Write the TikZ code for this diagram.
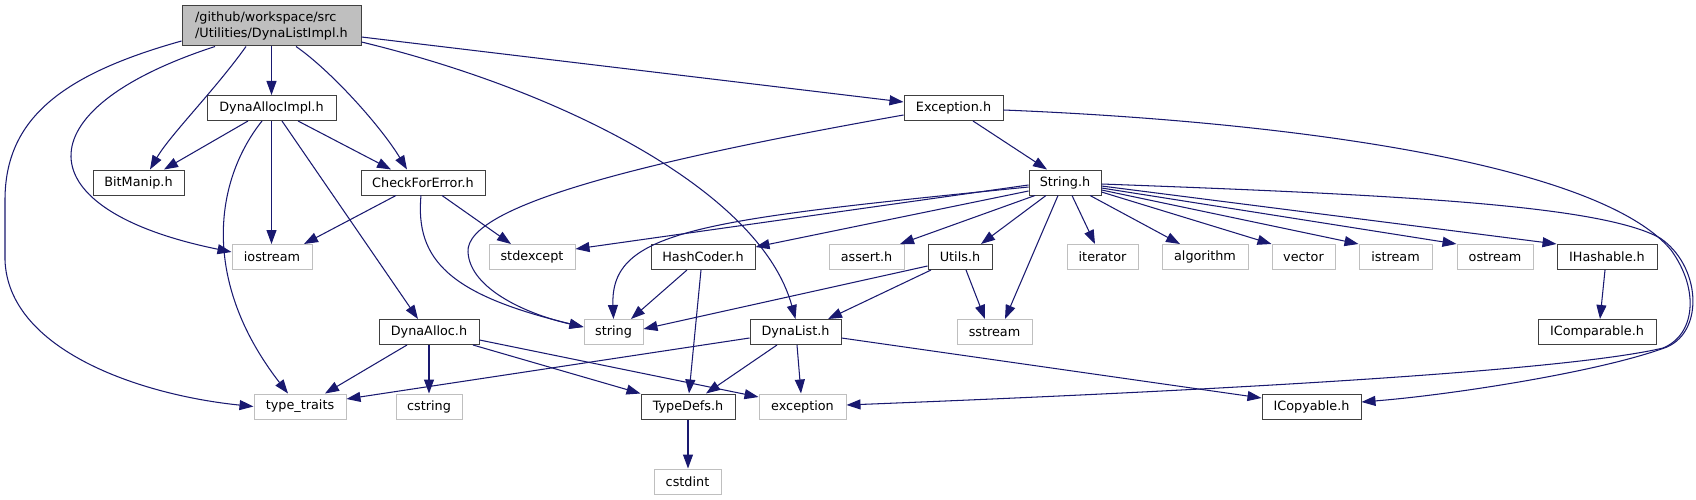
\documentclass[tikz,border=0pt]{standalone}
\usepackage{fontspec}
\newfontfamily\dv{DejaVu Sans}
\usetikzlibrary{arrows.meta}
\definecolor{edgecol}{HTML}{191970}
\definecolor{syscol}{HTML}{BFBFBF}
\definecolor{boxcol}{HTML}{404040}
\definecolor{rootfill}{HTML}{BFBFBF}
\tikzset{
  box/.style={draw=boxcol, line width=1pt, fill=white, inner sep=0pt, minimum height=25pt, text=black, font=\dv\fontsize{12.8}{16}\selectfont},
  sysbox/.style={box, draw=syscol},
  rootbox/.style={box, fill=rootfill, minimum height=40pt, align=left},
  edge/.style={draw=edgecol, line width=1.05pt, -{Triangle[length=14pt,width=10pt]}}
}
\begin{document}
\begin{tikzpicture}[x=1pt,y=-1pt]
\useasboundingbox[fill=white] (0,0) rectangle (1696,500);
% nodes
\node[rootbox, minimum width=179pt] (root) at (271.5,26) {/github/workspace/src\\/Utilities/DynaListImpl.h};
\node[box, minimum width=129pt] (dai) at (271.5,108) {DynaAllocImpl.h};
\node[box, minimum width=99pt] (exc) at (953.5,108) {Exception.h};
\node[box, minimum width=91pt] (bit) at (138.5,182.5) {BitManip.h};
\node[box, minimum width=124pt] (cfe) at (423,182.5) {CheckForError.h};
\node[box, minimum width=72pt] (str) at (1065,182.5) {String.h};
\node[sysbox, minimum width=80pt] (ios) at (272,257) {iostream};
\node[sysbox, minimum width=86pt] (stdex) at (532,257) {stdexcept};
\node[box, minimum width=104pt] (hash) at (703,257) {HashCoder.h};
\node[sysbox, minimum width=75pt] (assert) at (866.5,257) {assert.h};
\node[box, minimum width=64pt] (utils) at (960,257) {Utils.h};
\node[sysbox, minimum width=71pt] (iter) at (1102.5,257) {iterator};
\node[sysbox, minimum width=86pt] (algo) at (1205,257) {algorithm};
\node[sysbox, minimum width=63pt] (vec) at (1303.5,257) {vector};
\node[sysbox, minimum width=73pt] (istr) at (1395.5,257) {istream};
\node[sysbox, minimum width=76pt] (ostr) at (1495,257) {ostream};
\node[box, minimum width=100pt] (ihash) at (1607,257) {IHashable.h};
\node[box, minimum width=100pt] (da) at (429,332) {DynaAlloc.h};
\node[sysbox, minimum width=59pt] (string) at (613.5,332) {string};
\node[box, minimum width=91pt] (dl) at (795.5,332) {DynaList.h};
\node[sysbox, minimum width=75pt] (sstr) at (994.5,332) {sstream};
\node[box, minimum width=118pt] (icmp) at (1597,332) {IComparable.h};
\node[sysbox, minimum width=92pt] (tt) at (300,406.5) {type\_traits};
\node[sysbox, minimum width=66pt] (cstr) at (429,406.5) {cstring};
\node[box, minimum width=94pt] (td) at (688,406.5) {TypeDefs.h};
\node[sysbox, minimum width=87pt] (excp) at (802.5,406.5) {exception};
\node[box, minimum width=99pt] (icpy) at (1311.5,406.5) {ICopyable.h};
\node[sysbox, minimum width=67pt] (cstdint) at (687.5,481.5) {cstdint};
% edges from root
\draw[edge] ([yshift=-15pt]root.west) .. controls (60,75) and (5,120) .. (5,200) -- (5,260) .. controls (8,350) and (140,395) .. (tt.west);
\draw[edge] ([xshift=-56.5pt]root.south) .. controls (20,110) and (25,210) .. ([yshift=5pt]ios.west);
\draw[edge] ([xshift=-25.5pt]root.south) .. controls (215,90) and (170,135) .. ([xshift=11.5pt]bit.north);
\draw[edge] (root.south) -- (dai.north);
\draw[edge] ([xshift=24.5pt]root.south) .. controls (330,70) and (380,125) .. ([xshift=-16pt]cfe.north);
\draw[edge] ([yshift=-16pt]root.east) .. controls (560,90) and (760,190) .. (dl.north);
\draw[edge] ([yshift=-11pt]root.east) -- ([yshift=6pt]exc.west);
% DynaAllocImpl
\draw[edge] ([xshift=-23.5pt]dai.south) -- ([xshift=25.5pt]bit.north);
\draw[edge] (dai.south) -- (dai.south |- ios.north);
\draw[edge] ([xshift=-9.5pt]dai.south) .. controls (215,180) and (200,280) .. ([xshift=-12pt]tt.north);
\draw[edge] ([xshift=10.5pt]dai.south) -- ([xshift=-11pt]da.north);
\draw[edge] ([xshift=26.5pt]dai.south) -- ([xshift=-32pt]cfe.north);
% CheckForError
\draw[edge] ([xshift=-27pt]cfe.south) -- ([xshift=32pt]ios.north);
\draw[edge] ([xshift=-2pt]cfe.south) .. controls (415,260) and (450,295) .. ([yshift=5pt]string.west);
\draw[edge] ([xshift=19pt]cfe.south) -- ([xshift=-21pt]stdex.north);
% Exception.h
\draw[edge] ([xshift=19.5pt]exc.south) -- ([xshift=-18pt]str.north);
\draw[edge] ([yshift=-7pt]exc.west) .. controls (650,160) and (465,205) .. (468,252) .. controls (470,290) and (530,315) .. ([yshift=5pt]string.west);
\draw[edge] ([yshift=-2pt]exc.east) .. controls (1300,122) and (1600,165) .. (1671,250) .. controls (1700,290) and (1695,335) .. (1663,348) .. controls (1550,375) and (1100,395) .. ([yshift=1.5pt]excp.east);
% String.h
\draw[edge] ([yshift=-1.5pt]str.east) .. controls (1400,195) and (1600,205) .. (1660,238) .. controls (1700,265) and (1705,330) .. (1667,347) .. controls (1600,372) and (1450,395) .. ([yshift=4.5pt]icpy.east);
\draw[edge] ([yshift=-2.5pt]str.west) -- ([yshift=8pt]stdex.east);
\draw[edge] ([yshift=-4.5pt]str.west) .. controls (700,220) and (610,230) .. (string.north);
\draw[edge] ([yshift=-8.5pt]str.west) -- ([yshift=10pt]hash.east);
\draw[edge] ([xshift=-30pt]str.south) -- ([xshift=33.5pt]assert.north);
\draw[edge] ([xshift=-19pt]str.south) -- ([xshift=21pt]utils.north);
\draw[edge] ([xshift=-7pt]str.south) -- ([xshift=10.5pt]sstr.north);
\draw[edge] ([xshift=7pt]str.south) -- ([xshift=-7.5pt]iter.north);
\draw[edge] ([xshift=25pt]str.south) -- ([xshift=-25pt]algo.north);
\draw[edge] ([yshift=-9.5pt]str.east) -- (vec.north west);
\draw[edge] ([yshift=-7.5pt]str.east) -- (istr.north west);
\draw[edge] ([yshift=-5.5pt]str.east) -- (ostr.north west);
\draw[edge] ([yshift=-3.5pt]str.east) -- (ihash.north west);
% HashCoder.h
\draw[edge] ([xshift=-16pt]hash.south) -- ([xshift=17.5pt]string.north);
\draw[edge] ([xshift=-2pt]hash.south) -- ([xshift=1pt]td.north);
% Utils.h
\draw[edge] ([yshift=-9pt]utils.west) -- ([yshift=3pt]string.east);
\draw[edge] ([xshift=-29pt]utils.south) -- ([xshift=32.5pt]dl.north);
\draw[edge] ([xshift=6pt]utils.south) -- ([xshift=-9.5pt]sstr.north);
% DynaAlloc.h
\draw[edge] ([xshift=-22pt]da.south) -- ([xshift=25pt]tt.north);
\draw[edge] (da.south) -- (cstr.north);
\draw[edge] ([xshift=44pt]da.south) -- (td.north west);
\draw[edge] ([yshift=-8pt]da.east) -- ([yshift=9.5pt]excp.west);
% DynaList.h
\draw[edge] ([yshift=-6pt]dl.west) -- ([yshift=7.5pt]tt.east);
\draw[edge] ([xshift=-18.5pt]dl.south) -- ([xshift=18pt]td.north);
\draw[edge] ([xshift=1.5pt]dl.south) -- ([xshift=-1.5pt]excp.north);
\draw[edge] ([yshift=-6pt]dl.east) -- ([yshift=8.5pt]icpy.west);
% others
\draw[edge] (td.south) -- (td.south |- cstdint.north);
\draw[edge] ([xshift=-2pt]ihash.south) -- ([xshift=3pt]icmp.north);
\end{tikzpicture}
\end{document}
